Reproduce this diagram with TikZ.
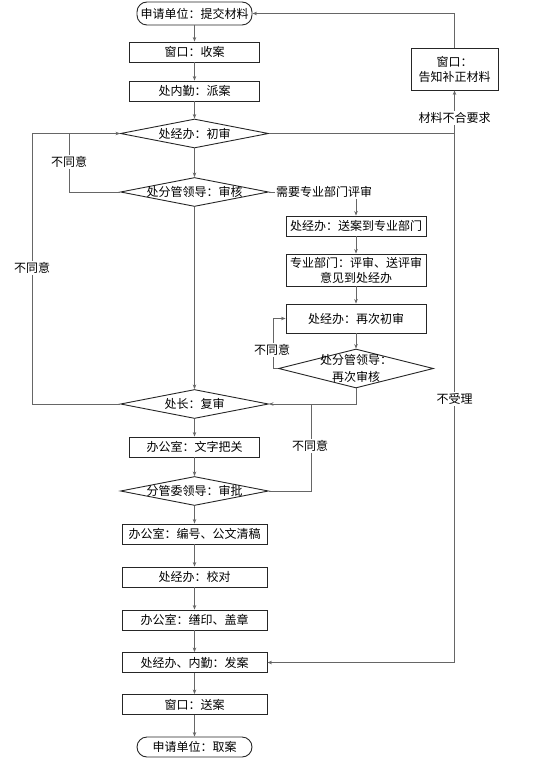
\documentclass[tikz,border=0pt]{standalone}
\usepackage{fontspec}
\setmainfont{Noto Sans CJK SC}
\usetikzlibrary{shapes.geometric,arrows.meta}

\begin{document}
\begin{tikzpicture}[x=1pt,y=-1pt,
  font=\fontsize{12}{15}\selectfont,
  >={Stealth[length=4.5pt,width=3.5pt]},
  box/.style={draw=black!85,line width=0.9pt,minimum width=130pt,minimum height=20pt,inner sep=0pt,align=center},
  wbox/.style={box,minimum width=145pt},
  rbox/.style={box,minimum width=140pt},
  term/.style={box,minimum width=115pt,rounded corners=10pt},
  dmd/.style={draw=black!85,line width=0.9pt,diamond,aspect=1,inner sep=0pt,minimum width=148pt,minimum height=29pt,align=center},
  flow/.style={draw=black!60,line width=0.8pt},
  note/.style={fill=white,inner sep=1pt}]
\useasboundingbox (0,0) rectangle (547,759);
\node[term,minimum height=23pt] (start) at (194.5,13.5) {申请单位：提交材料};
\node[box] (b1) at (194.5,52) {窗口：收案};
\node[box] (b2) at (194.5,91) {处内勤：派案};
\node[dmd] (d1) at (194.5,133.5) {\makebox[0pt]{处经办：初审}};
\node[dmd] (d2) at (194.5,192) {\makebox[0pt]{处分管领导：审核}};
\node[dmd] (d4) at (194.5,404) {\makebox[0pt]{处长：复审}};
\node[box] (b5) at (194.5,447) {办公室：文字把关};
\node[dmd] (d5) at (194.5,491) {\makebox[0pt]{分管委领导：审批}};
\node[wbox] (b6) at (194.5,534) {办公室：编号、公文清稿};
\node[wbox] (b7) at (194.5,577) {处经办：校对};
\node[wbox] (b8) at (194.5,620) {办公室：缮印、盖章};
\node[wbox] (b9) at (194.5,662.5) {处经办、内勤：发案};
\node[wbox] (b10) at (194.5,704.5) {窗口：送案};
\node[term] (end) at (194.5,747) {申请单位：取案};
\node[rbox] (s1) at (356,226) {处经办：送案到专业部门};
\node[rbox,minimum height=32pt] (s2) at (356,270) {专业部门：评审、送评审\\意见到处经办};
\node[rbox,minimum height=29pt] (s3) at (356,318.5) {处经办：再次初审};
\node[dmd,minimum width=155pt,minimum height=39pt] (d3) at (356,368.5) {\makebox[0pt]{处分管领导：}\\[2pt]\makebox[0pt]{再次审核}};
\node[box,minimum width=87pt,minimum height=42pt] (r1) at (454.5,69) {窗口：\\告知补正材料};
\node[note,anchor=west] (need) at ([xshift=6pt]d2.east) {需要专业部门评审};
\draw [flow,->] (start) -- (b1);
\draw [flow,->] (b1) -- (b2);
\draw [flow,->] (b2) -- (d1);
\draw [flow,->] (d1) -- (d2);
\draw [flow,->] (d2) -- (d4);
\draw [flow,->] (d4) -- (b5);
\draw [flow,->] (b5) -- (d5);
\draw [flow,->] (d5) -- (b6);
\draw [flow,->] (b6) -- (b7);
\draw [flow,->] (b7) -- (b8);
\draw [flow,->] (b8) -- (b9);
\draw [flow,->] (b9) -- (b10);
\draw [flow,->] (b10) -- (end);
\draw [flow] (d2.east) -- (need.west);
\draw [flow,->] (need.south -| s1.north) -- (s1.north);
\draw [flow,->] (s1) -- (s2);
\draw [flow,->] (s2) -- (s3);
\draw [flow,->] (s3) -- (d3);
\coordinate (c3) at ([xshift=-5pt]d3.west);
\draw [flow,->] (d3.west) -- (c3) |- (s3.west);
\draw [flow,->] (d3.south) |- (d4.east);
\coordinate (c4) at ([xshift=42pt]d4.east);
\draw [flow] (d5.east) -| (c4);
\coordinate (l1) at ([xshift=-51pt]d1.west);
\coordinate (l2) at ([xshift=-88pt]d1.west);
\draw [flow,->] (d4.west) -| (l2) -- (d1.west);
\draw [flow] (d2.west) -| (l1);
\coordinate (j1) at (d1.east -| r1.south);
\draw [flow] (d1.east) -- (j1);
\draw [flow,->] (j1) -- (r1.south);
\draw [flow,->] (r1.north) |- (start.east);
\draw [flow,->] (j1) |- (b9.east);
\node[note] (n1) at (69,162) {不同意};
\node[note] (n2) at (32,268) {不同意};
\node[note] (n3) at (272,350) {不同意};
\node[note] (n4) at (310,446) {不同意};
\node[note] (n5) at (454.5,118) {材料不合要求};
\node[note] (n6) at (454.5,399) {不受理};
\end{tikzpicture}
\end{document}
